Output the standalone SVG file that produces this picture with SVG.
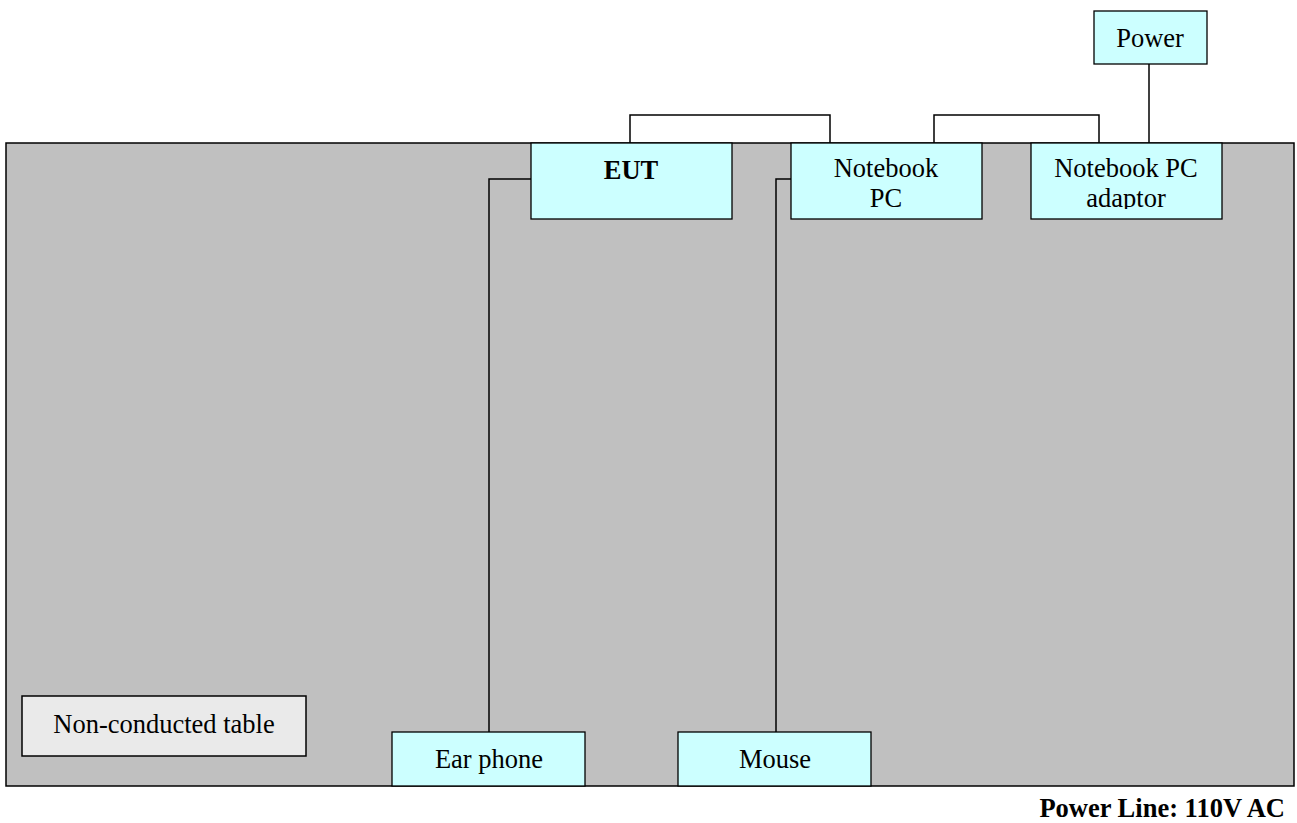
<svg xmlns="http://www.w3.org/2000/svg" width="1297" height="823" viewBox="0 0 1297 823">
<style>
.box{fill:#ccffff;stroke:#000;stroke-width:1.3}
.t{font-family:"Liberation Serif","Times New Roman",serif;font-size:26.5px;fill:#000;text-anchor:middle}
.w{fill:none;stroke:#000;stroke-width:1.5}
</style>
<defs><clipPath id="clipA"><rect x="1031" y="143" width="191" height="66"/></clipPath></defs>
<rect width="1297" height="823" fill="#fff"/>
<g id="table"><rect x="6" y="143" width="1288" height="643" fill="#c0c0c0" stroke="#000" stroke-width="1.5"/></g>
<g id="connectors">
<polyline class="w" points="630,143 630,115 830,115 830,143"/>
<polyline class="w" points="934,143 934,115 1099,115 1099,143"/>
<line class="w" x1="1149" y1="64" x2="1149" y2="143"/>
<polyline class="w" points="531,179 489,179 489,732"/>
<polyline class="w" points="791,179 776,179 776,732"/>
</g>
<g id="label"><rect x="22" y="696" width="284" height="60" fill="#eaeaea" stroke="#000" stroke-width="1.5"/><text class="t" x="164" y="733">Non-conducted table</text></g>
<g id="eut"><rect class="box" x="531" y="143" width="201" height="76"/><text class="t" x="631" y="179" font-weight="bold">EUT</text></g>
<g id="notebook"><rect class="box" x="791" y="143" width="191" height="76"/><text class="t" x="886" y="177">Notebook</text><text class="t" x="886" y="207">PC</text></g>
<g id="adaptor"><rect class="box" x="1031" y="143" width="191" height="76"/><text class="t" x="1126" y="177">Notebook PC</text><text class="t" x="1126" y="207" clip-path="url(#clipA)">adaptor</text></g>
<g id="power"><rect class="box" x="1094" y="11" width="113" height="53"/><text class="t" x="1150" y="47">Power</text></g>
<g id="earphone"><rect class="box" x="392" y="732" width="193" height="54"/><text class="t" x="489" y="768">Ear phone</text></g>
<g id="mouse"><rect class="box" x="678" y="732" width="193" height="54"/><text class="t" x="775" y="768">Mouse</text></g>
<text class="t" x="1285" y="817" style="text-anchor:end" font-weight="bold">Power Line: 110V AC</text>
</svg>
